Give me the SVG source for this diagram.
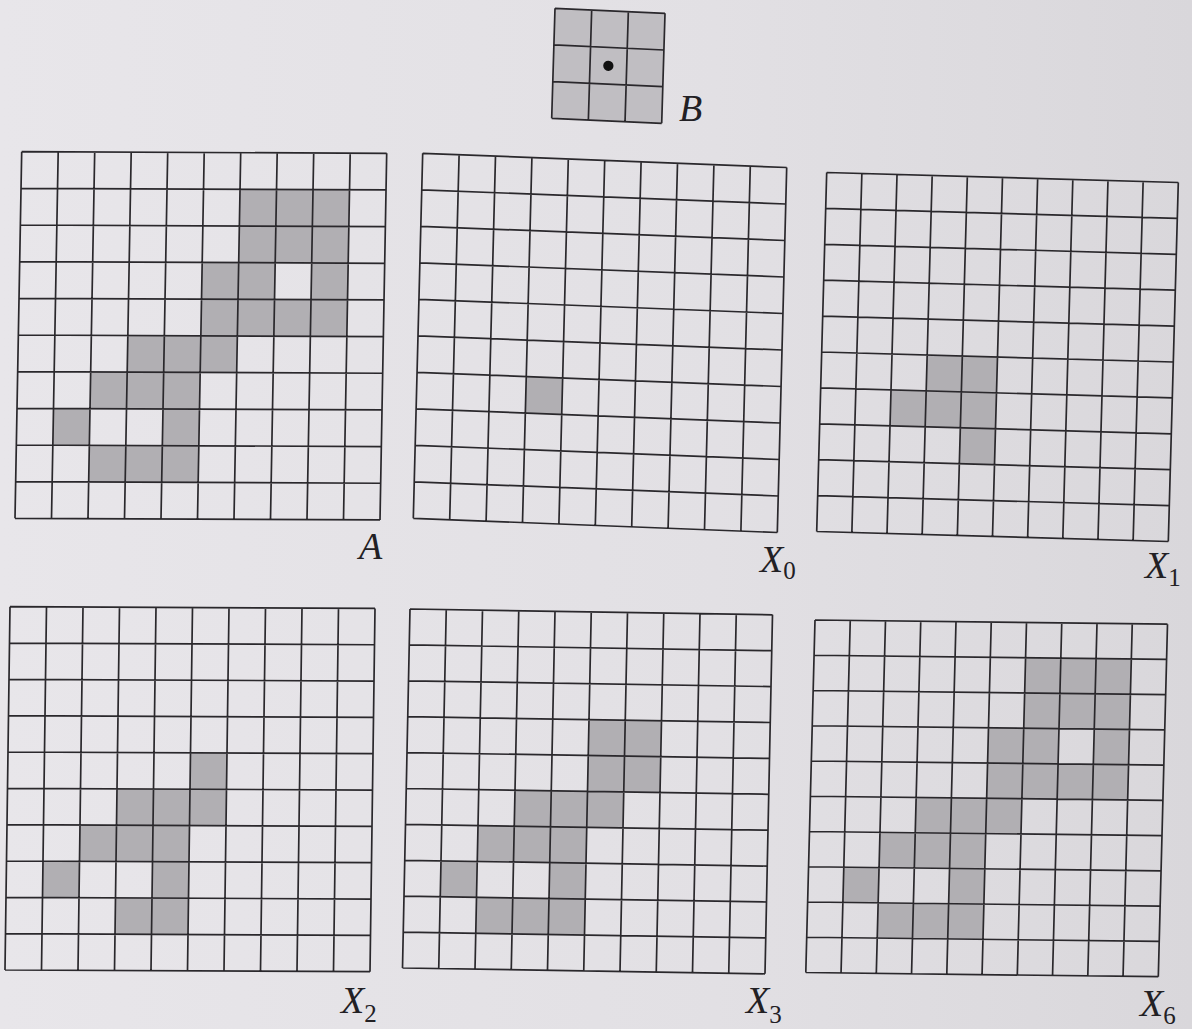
<svg xmlns="http://www.w3.org/2000/svg" xmlns:xlink="http://www.w3.org/1999/xlink" width="1192" height="1029" viewBox="0 0 1192 1029">
  <defs>
    <linearGradient id="bg" x1="0" y1="0" x2="1" y2="0">
      <stop offset="0" stop-color="#e8e6ea"/>
      <stop offset="0.6" stop-color="#e2e0e4"/>
      <stop offset="1" stop-color="#d9d7db"/>
    </linearGradient>
    <path id="g10" class="grid" d="M0,0H10M0,1H10M0,2H10M0,3H10M0,4H10M0,5H10M0,6H10M0,7H10M0,8H10M0,9H10M0,10H10M0,0V10M1,0V10M2,0V10M3,0V10M4,0V10M5,0V10M6,0V10M7,0V10M8,0V10M9,0V10M10,0V10"/>
    <path id="g3" class="grid" d="M0,0H3M0,1H3M0,2H3M0,3H3M0,0V3M1,0V3M2,0V3M3,0V3"/>
  </defs>
  <style>
    .grid { fill: none; stroke: #2a282c; stroke-width: 1.7; vector-effect: non-scaling-stroke; }
    .cell { fill: #b1afb3; }
    .bcell { fill: #c0bec2; }
    .lbl { font-family: "Liberation Serif", "Times New Roman", serif; font-style: italic; font-size: 38px; fill: #222024; }
    .sub { font-style: normal; font-size: 25px; }
  </style>
  <rect width="1192" height="1029" fill="url(#bg)"/>

  <g id="B">
    <g transform="matrix(36.67 1.67 -1.1 36.67 555 8.3)">
      <rect class="bcell" x="0" y="0" width="3" height="3"/>
      <use xlink:href="#g3"/>
      <circle cx="1.5" cy="1.5" r="0.14" fill="#111"/>
    </g>
    <text class="lbl" font-family="Liberation Serif, serif" x="679" y="121">B</text>
  </g>

  <g id="A">
    <g transform="matrix(36.5 0.16 -0.67 36.66 21.7 151.7)">
      <rect class="cell" x="6" y="1" width="3" height="2"/>
      <rect class="cell" x="5" y="3" width="2" height="1"/>
      <rect class="cell" x="8" y="3" width="1" height="1"/>
      <rect class="cell" x="5" y="4" width="4" height="1"/>
      <rect class="cell" x="3" y="5" width="3" height="1"/>
      <rect class="cell" x="2" y="6" width="3" height="1"/>
      <rect class="cell" x="1" y="7" width="1" height="1"/>
      <rect class="cell" x="4" y="7" width="1" height="1"/>
      <rect class="cell" x="2" y="8" width="3" height="1"/>
      <use xlink:href="#g10"/>
    </g>
    <text class="lbl" font-family="Liberation Serif, serif" x="359" y="559">A</text>
  </g>

  <g id="X0">
    <g transform="matrix(36.4 1.42 -0.94 36.5 422.7 153.3)">
      <rect class="cell" x="3" y="6" width="1" height="1"/>
      <use xlink:href="#g10"/>
    </g>
    <text class="lbl" font-family="Liberation Serif, serif" x="760" y="572">X<tspan class="sub" dy="7">0</tspan></text>
  </g>

  <g id="X1">
    <g transform="matrix(35.16 1.0 -1.0 35.9 826.7 172.5)">
      <rect class="cell" x="3" y="5" width="2" height="1"/>
      <rect class="cell" x="2" y="6" width="3" height="1"/>
      <rect class="cell" x="4" y="7" width="1" height="1"/>
      <use xlink:href="#g10"/>
    </g>
    <text class="lbl" font-family="Liberation Serif, serif" x="1145" y="578">X<tspan class="sub" dy="8">1</tspan></text>
  </g>

  <g id="X2">
    <g transform="matrix(36.5 0.17 -0.5 36.33 10 606.7)">
      <rect class="cell" x="5" y="4" width="1" height="1"/>
      <rect class="cell" x="3" y="5" width="3" height="1"/>
      <rect class="cell" x="2" y="6" width="3" height="1"/>
      <rect class="cell" x="1" y="7" width="1" height="1"/>
      <rect class="cell" x="4" y="7" width="1" height="1"/>
      <rect class="cell" x="3" y="8" width="2" height="1"/>
      <use xlink:href="#g10"/>
    </g>
    <text class="lbl" font-family="Liberation Serif, serif" x="341" y="1013">X<tspan class="sub" dy="9">2</tspan></text>
  </g>

  <g id="X3">
    <g transform="matrix(36.25 0.58 -0.75 35.9 410 609)">
      <rect class="cell" x="5" y="3" width="2" height="2"/>
      <rect class="cell" x="3" y="5" width="3" height="1"/>
      <rect class="cell" x="2" y="6" width="3" height="1"/>
      <rect class="cell" x="1" y="7" width="1" height="1"/>
      <rect class="cell" x="4" y="7" width="1" height="1"/>
      <rect class="cell" x="2" y="8" width="3" height="1"/>
      <use xlink:href="#g10"/>
    </g>
    <text class="lbl" font-family="Liberation Serif, serif" x="746" y="1013">X<tspan class="sub" dy="10">3</tspan></text>
  </g>

  <g id="X6">
    <g transform="matrix(35.25 0.42 -0.92 35.25 815 620)">
      <rect class="cell" x="6" y="1" width="3" height="2"/>
      <rect class="cell" x="5" y="3" width="2" height="1"/>
      <rect class="cell" x="8" y="3" width="1" height="1"/>
      <rect class="cell" x="5" y="4" width="4" height="1"/>
      <rect class="cell" x="3" y="5" width="3" height="1"/>
      <rect class="cell" x="2" y="6" width="3" height="1"/>
      <rect class="cell" x="1" y="7" width="1" height="1"/>
      <rect class="cell" x="4" y="7" width="1" height="1"/>
      <rect class="cell" x="2" y="8" width="3" height="1"/>
      <use xlink:href="#g10"/>
    </g>
    <text class="lbl" font-family="Liberation Serif, serif" x="1140" y="1016">X<tspan class="sub" dy="8">6</tspan></text>
  </g>

  <g id="connectors"/>
</svg>
